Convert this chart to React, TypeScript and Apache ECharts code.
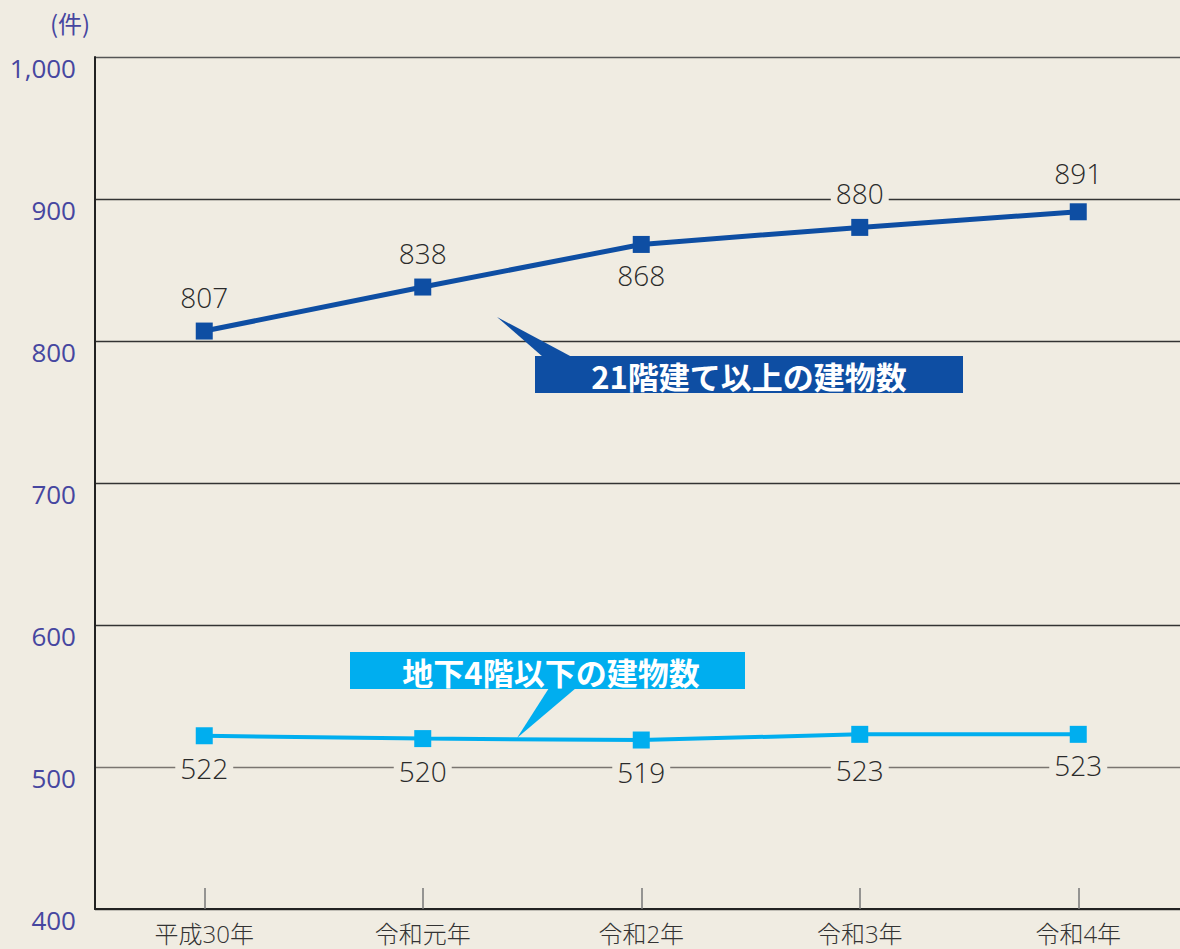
import React, { useEffect, useRef } from "react";
import * as echarts from "echarts";

const categories = ["平成30年", "令和元年", "令和2年", "令和3年", "令和4年"];
const highRise = [807, 838, 868, 880, 891];
const highRiseLabelPos = ["top", "top", "bottom", "top", "top"];
const underground = [522, 520, 519, 523, 523];
const yTicks = { min: 400, max: 1000, interval: 100 };
const unitLabel = "(件)";
const highRiseName = "21階建て以上の建物数";
const undergroundName = "地下4階以下の建物数";

// label distances (style only)
const highRiseLabelDist = [12, 12, 8, 12, 16];
const undergroundLabelDist = [10, 10, 9, 13, 8];

const BG = "#f0ece2";
const DARK = "#0e4ea3";
const LIGHT = "#00aeef";
const AXIS_BLUE = "#4646a0";
const FONT = "'Open Sans', 'Noto Sans CJK JP', sans-serif";
const CJK = "'Noto Sans CJK JP', 'Noto Sans', sans-serif";

export default function App() {
  const ref = useRef<HTMLDivElement>(null);
  useEffect(() => {
    document.body.style.margin = "0";
    const chart = echarts.init(ref.current!, null, { renderer: "svg" });
    const labelBase = {
      show: true,
      fontSize: 28,
      fontWeight: 300,
      color: "#2a2a2a",
      fontFamily: FONT,
      backgroundColor: BG,
      padding: [0, 5],
    };
    chart.setOption({
      animation: false,
      backgroundColor: BG,
      textStyle: { fontFamily: FONT },
      grid: { left: 95, top: 57, bottom: 40, width: 1092.5 },
      xAxis: {
        type: "category",
        data: categories,
        boundaryGap: true,
        axisLine: { show: true, lineStyle: { color: "#222", width: 2 } },
        axisTick: {
          show: true,
          inside: true,
          alignWithLabel: true,
          length: 21,
          lineStyle: { color: "#777", width: 1.5 },
        },
        axisLabel: { fontSize: 24, color: "#333", margin: 12, fontFamily: FONT, fontWeight: 300 },
        splitLine: { show: false },
      },
      yAxis: {
        type: "value",
        min: yTicks.min,
        max: yTicks.max,
        interval: yTicks.interval,
        axisLine: { show: true, lineStyle: { color: "#222", width: 2 } },
        axisTick: { show: false },
        axisLabel: {
          fontSize: 26,
          color: AXIS_BLUE,
          margin: 19,
          fontFamily: FONT,
          verticalAlign: "top",
          lineHeight: 22,
          formatter: (v: number) => v.toLocaleString("en-US"),
        },
        splitLine: {
          show: true,
          lineStyle: {
            color: ["#333", "#7a7570", "#333", "#333", "#333", "#333", "#555"],
            width: 1.3,
          },
        },
      },
      series: [
        {
          name: highRiseName,
          type: "line",
          data: highRise.map((v, i) => ({
            value: v,
            label: { position: highRiseLabelPos[i], distance: highRiseLabelDist[i] },
          })),
          symbol: "rect",
          symbolSize: 17,
          lineStyle: { color: DARK, width: 5 },
          itemStyle: { color: DARK },
          label: { ...labelBase },
          z: 3,
        },
        {
          name: undergroundName,
          type: "line",
          data: underground.map((v, i) => ({
            value: v,
            label: { distance: undergroundLabelDist[i] },
          })),
          symbol: "rect",
          symbolSize: 17,
          lineStyle: { color: LIGHT, width: 4 },
          itemStyle: { color: LIGHT },
          label: { ...labelBase, position: "bottom" },
          z: 3,
        },
      ],
      graphic: [
        {
          type: "text",
          left: 50,
          top: 10,
          style: { text: unitLabel, fontSize: 24, fill: AXIS_BLUE, fontFamily: CJK },
        },
        {
          type: "polygon",
          shape: { points: [[497, 317], [543, 357], [572, 357]] },
          style: { fill: DARK },
          z: 10,
        },
        {
          type: "rect",
          shape: { x: 535, y: 356, width: 428, height: 37 },
          style: { fill: DARK },
          z: 10,
        },
        {
          type: "text",
          x: 749,
          y: 375,
          style: {
            text: highRiseName,
            fontSize: 31,
            fontWeight: "bold",
            fill: "#fff",
            fontFamily: CJK,
            align: "center",
            verticalAlign: "middle",
          },
          z: 11,
        },
        {
          type: "polygon",
          shape: { points: [[517, 738], [549, 688], [576, 688]] },
          style: { fill: LIGHT },
          z: 10,
        },
        {
          type: "rect",
          shape: { x: 350, y: 652, width: 395, height: 37 },
          style: { fill: LIGHT },
          z: 10,
        },
        {
          type: "text",
          x: 551,
          y: 671,
          style: {
            text: undergroundName,
            fontSize: 31,
            fontWeight: "bold",
            fill: "#fff",
            fontFamily: CJK,
            align: "center",
            verticalAlign: "middle",
          },
          z: 11,
        },
      ],
    });
    return () => chart.dispose();
  }, []);
  return (
    <div style={{ width: 1180, height: 949, overflow: "hidden" }}>
      <div ref={ref} style={{ width: 1200, height: 949 }} />
    </div>
  );
}
